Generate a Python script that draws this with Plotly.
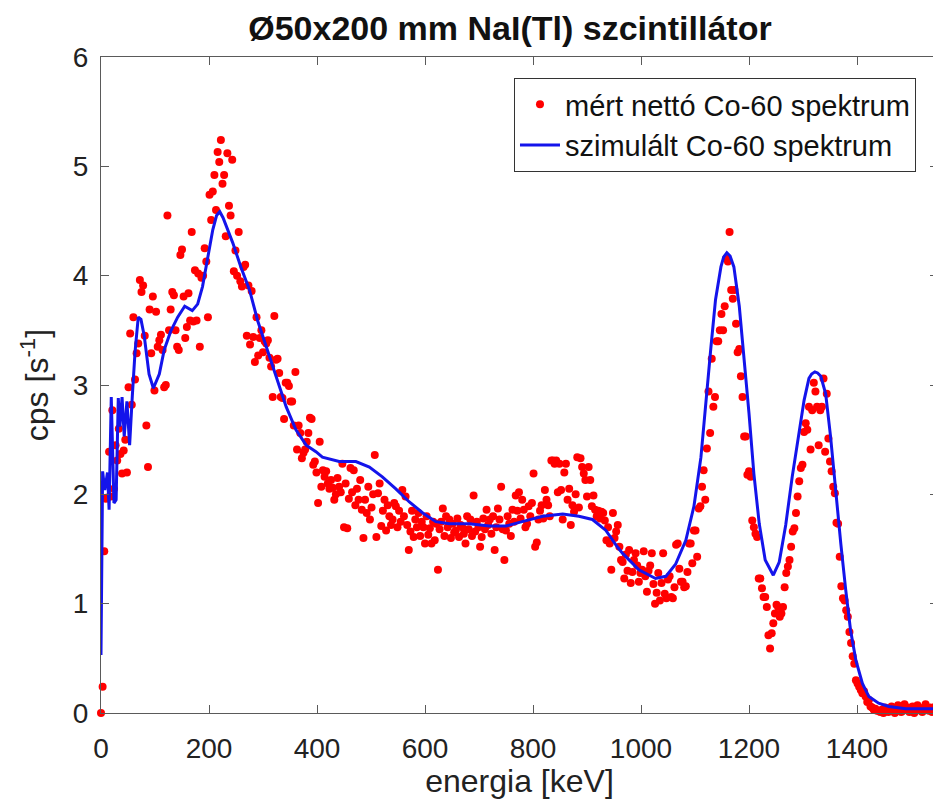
import plotly.graph_objects as go

# Measured net Co-60 spectrum (3 keV channels starting at 0 keV), cps
meas_cps = [
    0.00, 0.24, 1.48, 1.96, 1.97, 2.39, 1.98, 2.77, 2.05, 2.45,
    2.31, 2.60, 2.37, 2.19, 2.40, 2.50, 2.20, 2.98, 3.47, 2.82,
    3.62, 3.05, 3.29, 3.38, 3.96, 3.85, 3.91, 3.45, 2.63, 2.25,
    3.69, 3.29, 3.81, 2.95, 3.67, 3.35, 3.41, 3.46, 3.32, 2.98,
    3.00, 4.55, 3.50, 3.69, 3.85, 3.82, 3.50, 3.35, 3.32, 4.19,
    4.24, 3.81, 3.43, 3.53, 3.84, 3.59, 4.40, 3.58, 4.05, 3.59,
    4.02, 3.35, 3.98, 4.00, 4.25, 4.13, 3.62, 4.74, 4.51, 4.77,
    4.92, 4.60, 5.13, 5.04, 5.24, 4.84, 4.92, 4.36, 5.12, 4.64,
    4.55, 5.06, 4.04, 4.23, 4.00, 4.40, 3.95, 3.90, 4.08, 4.10,
    3.45, 3.91, 3.37, 3.86, 3.44, 3.21, 3.62, 3.27, 3.43, 3.50,
    3.30, 3.40, 3.38, 3.41, 3.25, 3.17, 2.89, 3.63, 3.23, 3.24,
    3.11, 2.89, 2.88, 2.69, 3.02, 3.02, 2.99, 2.85, 2.85, 2.63,
    3.12, 2.41, 2.63, 2.56, 2.33, 2.38, 2.41, 2.48, 2.56, 2.70,
    2.69, 2.27, 2.30, 2.20, 1.92, 2.48, 2.07, 2.22, 2.16, 2.21,
    2.10, 2.05, 2.13, 2.06, 1.95, 2.00, 2.15, 2.07, 2.02, 2.28,
    1.70, 2.10, 1.69, 1.96, 2.24, 2.02, 2.22, 1.90, 2.05, 1.95,
    2.13, 1.86, 1.60, 1.95, 1.83, 2.07, 1.77, 1.88, 2.00, 2.36,
    1.61, 2.01, 2.10, 1.71, 1.85, 1.95, 1.67, 1.90, 1.80, 1.72,
    1.77, 1.92, 1.89, 1.70, 1.85, 1.75, 2.04, 1.80, 1.98, 1.72,
    1.49, 1.66, 1.85, 1.61, 1.77, 1.70, 1.83, 1.62, 1.75, 1.70,
    1.55, 1.80, 1.63, 1.69, 1.55, 1.75, 1.58, 1.73, 1.31, 1.68,
    1.75, 1.87, 1.62, 1.80, 1.70, 1.77, 1.60, 1.73, 1.65, 1.67,
    1.78, 1.61, 1.72, 1.70, 1.64, 1.55, 1.80, 1.68, 1.77, 1.62,
    1.99, 1.66, 1.75, 1.70, 1.52, 1.61, 1.78, 1.68, 1.86, 1.72,
    1.77, 1.64, 1.80, 1.49, 1.70, 1.87, 1.77, 2.07, 1.68, 1.40,
    1.67, 1.80, 1.73, 1.62, 1.86, 1.75, 1.99, 1.85, 2.02, 1.78,
    1.95, 1.86, 1.70, 1.73, 1.89, 1.80, 1.92, 2.19, 1.52, 1.56,
    1.77, 1.85, 1.90, 1.78, 2.04, 1.95, 1.90, 1.80, 2.31, 2.31,
    2.28, 2.31, 2.02, 2.28, 2.04, 1.77, 2.20, 2.28, 1.95, 2.05,
    1.72, 1.90, 1.84, 2.00, 2.34, 1.88, 2.33, 2.25, 2.19, 2.13,
    1.98, 2.25, 2.13, 1.89, 1.99, 1.86, 1.80, 1.85, 1.78, 1.84,
    1.83, 1.76, 1.58, 1.70, 1.55, 1.31, 1.83, 1.60, 1.66, 1.72,
    1.52, 1.40, 1.38, 1.23, 1.45, 1.30, 1.49, 1.19, 1.29, 1.40,
    1.46, 1.35, 1.20, 1.28, 1.31, 1.48, 1.25, 1.11, 1.30, 1.35,
    1.46, 1.18, 1.00, 1.10, 1.28, 1.03, 1.19, 1.46, 1.09, 1.05,
    1.22, 1.25, 1.06, 1.05, 1.15, 1.54, 1.55, 1.32, 1.20, 1.20,
    1.15, 1.16, 1.29, 1.55, 1.55, 1.37, 1.67, 1.67, 1.43, 1.87,
    1.89, 2.07, 2.22, 1.95, 2.42, 2.94, 2.56, 3.24, 2.80, 2.89,
    3.40, 3.40, 3.50, 3.65, 3.50, 3.72, 4.16, 4.13, 4.40, 3.87,
    3.79, 3.87, 3.56, 3.30, 3.33, 3.08, 2.89, 2.53, 2.53, 2.18,
    2.21, 2.16, 1.76, 1.70, 1.64, 1.61, 1.23, 1.23, 1.14, 1.06,
    1.06, 0.97, 0.71, 0.59, 0.73, 0.82, 0.91, 0.99, 0.97, 0.88,
    0.91, 0.97, 1.15, 1.28, 1.34, 1.40, 1.52, 1.66, 1.69, 1.83,
    1.98, 2.12, 2.24, 2.27, 2.57, 2.65, 2.59, 2.80, 2.41, 2.77,
    3.02, 2.94, 2.80, 2.45, 2.77, 2.80, 3.06, 2.39, 2.92, 2.51,
    2.30, 2.21, 2.07, 2.01, 1.74, 1.73, 1.43, 1.16, 1.05, 1.03,
    0.94, 0.88, 0.74, 0.64, 0.52, 0.45, 0.30, 0.27, 0.24, 0.21,
    0.18, 0.20, 0.15, 0.10, 0.12, 0.06, 0.05, 0.03, 0.04, 0.02,
    0.02, 0.01, 0.03, 0.00, 0.05, 0.02, 0.01, 0.04, 0.06, 0.02,
    0.00, 0.03, 0.07, 0.04, 0.01, 0.02, 0.08, 0.03, 0.05, 0.01,
    0.02, 0.06, 0.00, 0.03, 0.07, 0.05, 0.02, 0.01, 0.04, 0.08,
    0.03, 0.02, 0.05, 0.01, 0.03, 0.06, 0.02,
]
channel_width_kev = 3
meas_energy = [channel_width_kev * i for i in range(len(meas_cps))]

# Simulated Co-60 spectrum
sim_energy = [0, 3, 7, 12, 15, 19, 24, 28, 32, 35, 39, 43, 48, 53, 58, 63, 69, 74,
              80, 89, 97, 108, 117, 129, 142, 155, 169, 179, 188, 197, 207, 214,
              220, 226, 232, 244, 259, 275, 290, 306, 324, 343, 361, 380, 398, 410,
              441, 472, 497, 521, 546, 571, 596, 620, 645, 682, 719, 750, 780, 818,
              855, 885, 910, 935, 956, 966, 996, 1027, 1046, 1064, 1083, 1098, 1111,
              1120, 1129, 1138, 1148, 1153, 1159, 1165, 1172, 1182, 1191, 1200, 1209,
              1219, 1230, 1245, 1256, 1268, 1280, 1292, 1302, 1311, 1316, 1322, 1327,
              1333, 1342, 1351, 1360, 1370, 1379, 1388, 1398, 1410, 1422, 1440, 1459,
              1490, 1520, 1548]
sim_cps = [0.53, 2.21, 2.04, 2.20, 1.86, 2.89, 1.92, 1.95, 2.88, 2.62, 2.89, 2.53,
           2.85, 2.45, 2.90, 3.30, 3.62, 3.60, 3.45, 3.10, 2.97, 3.10, 3.32, 3.49,
           3.62, 3.72, 3.68, 3.74, 3.90, 4.14, 4.42, 4.55, 4.585, 4.53, 4.45, 4.30,
           4.08, 3.87, 3.59, 3.35, 3.08, 2.80, 2.59, 2.45, 2.39, 2.34, 2.30, 2.30,
           2.25, 2.16, 2.05, 1.93, 1.83, 1.75, 1.73, 1.73, 1.71, 1.71, 1.75, 1.80,
           1.82, 1.80, 1.77, 1.67, 1.52, 1.46, 1.31, 1.23, 1.25, 1.36, 1.58, 1.89,
           2.34, 2.86, 3.32, 3.78, 4.08, 4.17, 4.21, 4.18, 4.08, 3.72, 3.26, 2.74,
           2.19, 1.73, 1.40, 1.26, 1.38, 1.72, 2.16, 2.56, 2.86, 3.06, 3.10, 3.12,
           3.11, 3.08, 2.92, 2.53, 2.04, 1.55, 1.13, 0.76, 0.48, 0.27, 0.15, 0.09,
           0.06, 0.04, 0.04, 0.04]

x_ticks = [0, 200, 400, 600, 800, 1000, 1200, 1400]
y_ticks = [0, 1, 2, 3, 4, 5, 6]

FONT = "Liberation Sans, Arial, sans-serif"
AXIS_COLOR = "#5a5a5a"

fig = go.Figure()
fig.add_trace(go.Scatter(
    x=meas_energy, y=meas_cps, mode="markers",
    name="mért nettó Co-60 spektrum",
    marker=dict(color="rgb(255,0,0)", size=8, line=dict(width=0)),
    cliponaxis=False,
))
fig.add_trace(go.Scatter(
    x=sim_energy, y=sim_cps, mode="lines",
    name="szimulált Co-60 spektrum",
    line=dict(color="rgb(20,20,235)", width=3),
    cliponaxis=False,
))

# the page body adds an 8 px offset, so the figure is 8 px smaller
fig.update_layout(
    width=933, height=791,
    margin=dict(l=93, r=3, t=49, b=86, autoexpand=False),
    paper_bgcolor="white", plot_bgcolor="white",
    font=dict(family=FONT, size=28, color="#222"),
    title=dict(text="<b>Ø50x200 mm NaI(Tl) szcintillátor</b>",
               x=0.538, xanchor="center", y=0.975, yanchor="middle",
               font=dict(family=FONT, size=34, color="#111")),
    showlegend=True,
    legend=dict(x=0.9737, xanchor="right", y=0.968, yanchor="top",
                bgcolor="white", bordercolor="#333", borderwidth=1,
                font=dict(family=FONT, size=29, color="#111"),
                itemwidth=40, tracegroupgap=0),
)
fig.update_xaxes(
    range=[0, 1550], tickvals=x_ticks, ticks="inside", ticklen=8,
    tickcolor=AXIS_COLOR, showline=True, linecolor=AXIS_COLOR, linewidth=1,
    mirror="allticks", showgrid=False, zeroline=False, automargin=False,
    title=dict(text="energia [keV]", font=dict(size=32), standoff=0),
    tickfont=dict(size=28), ticklabelstandoff=10,
)
fig.update_yaxes(
    range=[0, 6], tickvals=y_ticks, ticks="inside", ticklen=8,
    tickcolor=AXIS_COLOR, showline=True, linecolor=AXIS_COLOR, linewidth=1,
    mirror="allticks", showgrid=False, zeroline=False, automargin=False,
    title=dict(text="cps [s<sup>-1</sup>]", font=dict(size=32), standoff=14),
    tickfont=dict(size=28), ticklabelstandoff=6,
)

fig.write_html("out.html")
